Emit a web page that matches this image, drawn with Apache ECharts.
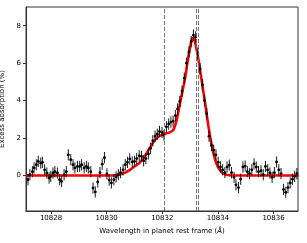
<!DOCTYPE html>
<html><head><meta charset="utf-8">
<script src="https://cdn.jsdelivr.net/npm/echarts@6/dist/echarts.min.js"></script>
<style>html,body{margin:0;padding:0;background:#fff}#c{width:307px;height:243px}</style>
</head><body><div id="c"></div>
<script>
// observed data: wavelength (Å) and excess absorption (%)
const wavelengths = [10827.17,10827.24,10827.33,10827.39,10827.47,10827.54,10827.63,10827.69,10827.77,10827.85,10827.93,10827.99,10828.07,10828.14,10828.23,10828.31,10828.38,10828.47,10828.55,10828.62,10828.71,10828.79,10828.86,10828.95,10829.03,10829.10,10829.19,10829.27,10829.34,10829.43,10829.51,10829.59,10829.68,10829.76,10829.84,10829.92,10830.01,10830.09,10830.17,10830.26,10830.34,10830.42,10830.50,10830.59,10830.67,10830.75,10830.83,10830.92,10831.00,10831.08,10831.17,10831.25,10831.33,10831.41,10831.50,10831.58,10831.66,10831.74,10831.82,10831.90,10831.99,10832.06,10832.15,10832.23,10832.31,10832.39,10832.47,10832.55,10832.63,10832.71,10832.79,10832.87,10832.96,10833.04,10833.12,10833.20,10833.28,10833.36,10833.44,10833.52,10833.60,10833.68,10833.77,10833.85,10833.93,10834.01,10834.09,10834.17,10834.25,10834.33,10834.41,10834.49,10834.58,10834.65,10834.74,10834.82,10834.90,10834.98,10835.06,10835.14,10835.22,10835.30,10835.38,10835.46,10835.55,10835.63,10835.71,10835.79,10835.87,10835.95,10836.03,10836.11,10836.19,10836.27,10836.36,10836.44,10836.52,10836.60,10836.68,10836.76,10836.84];
const absorption = [-0.23,0.04,0.2,0.4,0.57,0.75,0.66,0.7,0.3,0.13,-0.14,-0.05,0.13,0.2,0.13,-0.23,-0.32,0.04,0.2,1.1,0.84,0.57,0.4,0.48,0.48,0.57,0.4,0.48,0.4,0.2,-0.67,-0.88,-0.35,0.15,0.6,0.95,0.08,-0.25,-0.4,-0.23,-0.08,0.04,0.15,0.3,0.57,0.7,0.88,0.72,0.75,0.9,1.05,1.02,0.78,0.9,1.15,1.45,1.85,2.1,2.2,2.35,2.3,2.15,2.6,2.75,2.85,2.9,3.2,3.55,3.95,4.5,5.2,6.0,6.6,7.15,7.5,7.4,6.5,5.7,4.85,4.0,3.3,2.1,1.6,1.35,1.1,0.7,0.45,0.3,0.15,0.45,0.55,0.15,-0.1,-0.5,-0.65,-0.2,0.45,0.5,0.2,0.1,0.3,0.62,0.45,0.2,0.25,0.04,0.48,0.3,0.13,-0.1,0.15,0.72,0.3,0.1,-0.75,-0.9,-0.65,-0.4,-0.2,-0.05,0.1];
const yError = 0.3;
const xError = 0.04;
// model curve
const modelWl = [10827.1,10830.2,10830.48,10830.66,10830.84,10831.02,10831.20,10831.38,10831.56,10831.74,10831.92,10832.09,10832.27,10832.40,10832.52,10832.64,10832.82,10832.94,10833.06,10833.11,10833.18,10833.30,10833.42,10833.54,10833.66,10833.78,10833.90,10834.02,10834.15,10834.30,10834.51,10836.9];
const modelVal = [0,0,0.05,0.15,0.3,0.5,0.7,1.05,1.5,1.9,2.12,2.22,2.3,2.44,2.98,3.87,5.2,6.36,7.26,7.35,7.1,6.19,5.03,3.87,2.62,1.6,0.85,0.4,0.15,0.04,0,0];
// He I triplet line positions
const lineWl = [10832.06, 10833.22, 10833.31];
const xTicks = [10828, 10830, 10832, 10834, 10836];
const yTicks = [0, 2, 4, 6, 8];

const font = 'DejaVu Sans';
const obs = wavelengths.map((w, i) => [w, absorption[i]]);
const model = modelWl.map((w, i) => [w, modelVal[i]]);

const chart = echarts.init(document.getElementById('c'));
chart.setOption({
  animation: false,
  grid: {left: 26, right: 9, top: 7, bottom: 32, containLabel: false, outerBoundsMode: 'none', show: true, borderColor: '#333', borderWidth: 1, backgroundColor: 'transparent'},
  xAxis: {
    type: 'value', min: 10827.1, max: 10836.88,
    name: '{n|Wavelength in planet rest frame (}{i|Å}{n|)}',
    nameLocation: 'middle', nameGap: 17,
    nameTextStyle: {rich: {n: {fontFamily: font, fontSize: 7, color: '#000'}, i: {fontFamily: font, fontSize: 7, fontStyle: 'italic', color: '#000'}}},
    axisLine: {show: true, onZero: false, lineStyle: {color: '#333', width: 1}},
    axisTick: {show: true, length: 3, customValues: xTicks, lineStyle: {color: '#333'}},
    axisLabel: {customValues: xTicks, formatter: v => String(v), fontFamily: font, fontSize: 7, color: '#000', margin: 4},
    splitLine: {show: false}
  },
  yAxis: {
    type: 'value', min: -1.9, max: 9.0,
    name: 'Excess absorption (%)', nameLocation: 'middle', nameGap: 10,
    nameTextStyle: {fontFamily: font, fontSize: 7, color: '#000'},
    axisLine: {show: true, onZero: false, lineStyle: {color: '#333', width: 1}},
    axisTick: {show: true, length: 3, customValues: yTicks, lineStyle: {color: '#333'}},
    axisLabel: {customValues: yTicks, formatter: v => String(v), fontFamily: font, fontSize: 7, color: '#000', margin: 5},
    splitLine: {show: false}
  },
  series: [
    {
      type: 'line', data: [], silent: true,
      markLine: {
        silent: true, symbol: 'none', animation: false,
        label: {show: false},
        lineStyle: {type: [4, 2], color: '#666', width: 0.9},
        data: lineWl.map(w => ({xAxis: w}))
      }
    },
    {
      type: 'line', data: model, showSymbol: false, smooth: 0.3, z: 3,
      lineStyle: {color: '#ff0000', width: 2.6}
    },
    {
      type: 'custom', z: 4, data: obs,
      renderItem: function (params, api) {
        const x = api.value(0), y = api.value(1);
        const c = api.coord([x, y]);
        const top = api.coord([x, y + yError]);
        const bot = api.coord([x, y - yError]);
        const l = api.coord([x - xError, y]);
        const r = api.coord([x + xError, y]);
        return {type: 'group', children: [
          {type: 'line', shape: {x1: top[0], y1: top[1], x2: bot[0], y2: bot[1]}, style: {stroke: '#000', lineWidth: 0.9}},
          {type: 'line', shape: {x1: l[0], y1: l[1], x2: r[0], y2: r[1]}, style: {stroke: '#000', lineWidth: 0.9}},
          {type: 'circle', shape: {cx: c[0], cy: c[1], r: 1.4}, style: {fill: '#000'}}
        ]};
      }
    }
  ]
});
</script></body></html>
